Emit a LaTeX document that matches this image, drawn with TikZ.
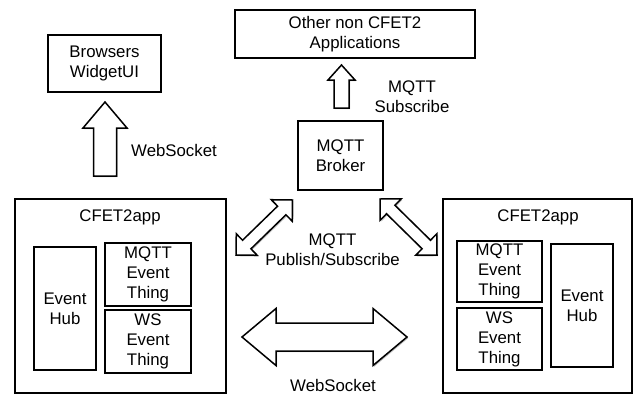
\documentclass[tikz,border=0pt]{standalone}
\usepackage{fontspec}
\setmainfont{Liberation Sans}
\usetikzlibrary{calc,shadows}

% Block arrow from tail #1 to tip #2: half shaft #3, half head #4, head length #5
\newcommand\fatarrow[5]{%
  \coordinate (fa-h) at ($(#2)!#5!(#1)$);
  \draw[arrowline] ($(#1)!#3!-90:(#2)$) -- ($(fa-h)!#3!90:(#1)$) -- ($(fa-h)!#4!90:(#1)$)
    -- (#2) -- ($(fa-h)!#4!-90:(#1)$) -- ($(fa-h)!#3!-90:(#1)$) -- ($(#1)!#3!90:(#2)$) -- cycle;}
% Double-headed block arrow between tips #1 and #2
\newcommand\fatdouble[5]{%
  \coordinate (fd-a) at ($(#1)!#5!(#2)$);
  \coordinate (fd-b) at ($(#2)!#5!(#1)$);
  \draw[arrowline] (#1) -- ($(fd-a)!#4!90:(#2)$) -- ($(fd-a)!#3!90:(#2)$)
    -- ($(fd-b)!#3!-90:(#1)$) -- ($(fd-b)!#4!-90:(#1)$) -- (#2)
    -- ($(fd-b)!#4!90:(#1)$) -- ($(fd-b)!#3!90:(#1)$)
    -- ($(fd-a)!#3!-90:(#2)$) -- ($(fd-a)!#4!-90:(#2)$) -- cycle;}

\tikzset{
  soft/.style={drop shadow={shadow xshift=1.2pt, shadow yshift=-1.2pt, opacity=0.25, fill=black}},
  box/.style={draw=black, line width=1.5pt, fill=white, soft, align=center,
    inner sep=0pt, font=\fontsize{16.8}{20}\selectfont},
  lbl/.style={align=center, inner sep=0pt, font=\fontsize{16.8}{20}\selectfont},
  arrowline/.style={draw=black, line width=1.5pt, fill=white, line join=miter, soft},
}

\begin{document}
\begin{tikzpicture}[x=1pt, y=-1pt]
\useasboundingbox (0,0) rectangle (634,397);

% top row
\node[box, minimum width=113pt, minimum height=57pt] (browsers) at (104.5,63.5) {Browsers\\WidgetUI};
\node[box, minimum width=240pt, minimum height=48pt] (others) at (355,34) {Other non CFET2\\Applications};
\node[box, minimum width=85pt, minimum height=69pt] (broker) at (340.5,155.5) {MQTT\\Broker};

% left application
\node[box, minimum width=211pt, minimum height=194pt] (appL) at (120.5,296) {};
\node[lbl] (appLt) at (120,217) {CFET2app};
\node[box, minimum width=62pt, minimum height=123pt] (hubL) at (65,308.5) {Event\\Hub};
\node[box, minimum width=86pt, minimum height=63pt] (mqttL) at (148,274.5) {MQTT\\Event\\Thing};
\node[box, minimum width=86pt, minimum height=63pt] (wsL) at (148,341.5) {WS\\Event\\Thing};

% right application
\node[box, minimum width=189pt, minimum height=194pt] (appR) at (537.5,296) {};
\node[lbl] (appRt) at (538,217) {CFET2app};
\node[box, minimum width=85pt, minimum height=61pt] (mqttR) at (499.5,271.5) {MQTT\\Event\\Thing};
\node[box, minimum width=85pt, minimum height=62pt] (wsR) at (499.5,339) {WS\\Event\\Thing};
\node[box, minimum width=62pt, minimum height=123pt] (hubR) at (582,305.5) {Event\\Hub};

% labels
\node[lbl, anchor=west] (wsup) at (131,150) {WebSocket};
\node[lbl] (mqsub) at (412,97) {MQTT\\Subscribe};
\node[lbl] (mqpub) at (332.5,250) {MQTT\\Publish/Subscribe};
\node[lbl] (wsbot) at (333,385) {WebSocket};

% arrow end points
\coordinate (upL-tail) at (105,176);
\coordinate (upL-tip) at (105,102);
\coordinate (upT-tail) at (341.5,108);
\coordinate (upT-tip) at (341.5,65);
\coordinate (diagL-a) at (236,255);
\coordinate (diagL-b) at (292.5,200);
\coordinate (diagR-a) at (380,199);
\coordinate (diagR-b) at (437,255);
\coordinate (horiz-a) at (242,337);
\coordinate (horiz-b) at (407,337);

\fatarrow{upL-tail}{upL-tip}{11.5pt}{22pt}{26pt}
\fatarrow{upT-tail}{upT-tip}{7.5pt}{13.5pt}{15pt}
\fatdouble{diagL-a}{diagL-b}{6pt}{15pt}{15pt}
\fatdouble{diagR-a}{diagR-b}{6pt}{15pt}{15pt}
\fatdouble{horiz-a}{horiz-b}{14pt}{28.5pt}{34pt}
\end{tikzpicture}
\end{document}
